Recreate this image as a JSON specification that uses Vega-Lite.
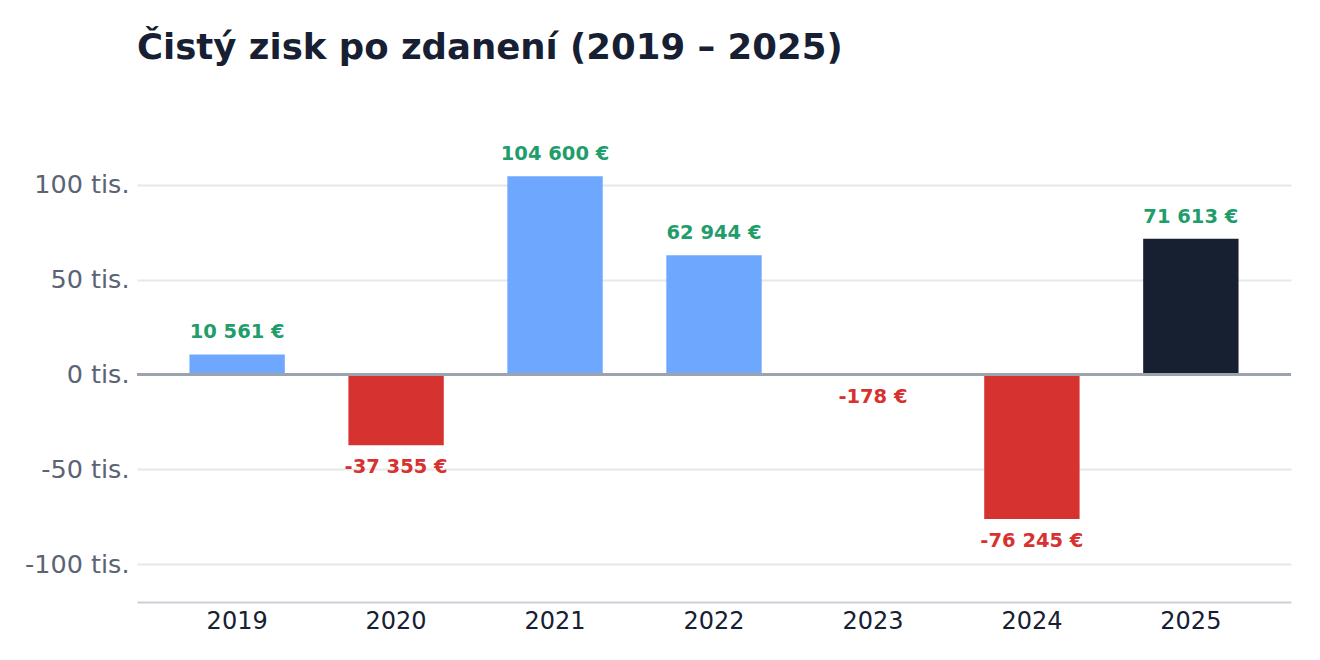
{
  "$schema": "https://vega.github.io/schema/vega-lite/v6.json",
  "width": 1320,
  "height": 660,
  "autosize": {"type": "fit", "contains": "padding"},
  "padding": {"left": 24, "right": 27, "top": 30, "bottom": 27},
  "background": "white",
  "title": {
    "text": "Čistý zisk po zdanení (2019 – 2025)",
    "anchor": "start",
    "frame": "group",
    "font": "DejaVu Sans",
    "fontSize": 35.5,
    "fontWeight": "bold",
    "color": "#172033",
    "offset": 62
  },
  "config": {
    "view": {"stroke": null},
    "font": "DejaVu Sans",
    "locale": {
      "number": {
        "decimal": ",",
        "thousands": " ",
        "grouping": [3],
        "currency": ["", " €"],
        "minus": "-"
      }
    }
  },
  "data": {
    "values": [
      {"year": "2019", "value": 10561},
      {"year": "2020", "value": -37355},
      {"year": "2021", "value": 104600},
      {"year": "2022", "value": 62944},
      {"year": "2023", "value": -178},
      {"year": "2024", "value": -76245},
      {"year": "2025", "value": 71613}
    ]
  },
  "encoding": {
    "x": {
      "field": "year",
      "type": "ordinal",
      "title": null,
      "scale": {"paddingInner": 0.4, "paddingOuter": 0.33},
      "axis": {
        "labelAngle": 0,
        "labelFontSize": 24,
        "labelColor": "#172033",
        "labelPadding": 7,
        "ticks": false,
        "domainColor": "#cbd0d8",
        "domainWidth": 2
      }
    },
    "y": {
      "field": "value",
      "type": "quantitative",
      "title": null,
      "scale": {"domain": [-120000, 130000], "nice": false},
      "axis": {
        "values": [-100000, -50000, 0, 50000, 100000],
        "labelExpr": "(datum.value / 1000) + ' tis.'",
        "labelFontSize": 25.5,
        "labelColor": "#5b6475",
        "labelPadding": 8,
        "ticks": false,
        "domain": false,
        "gridColor": "#e5e7eb",
        "gridWidth": 2
      }
    }
  },
  "layer": [
    {
      "mark": {"type": "bar"},
      "encoding": {
        "color": {
          "condition": [
            {"test": "datum.year === '2025'", "value": "#172030"},
            {"test": "datum.value < 0", "value": "#d63330"}
          ],
          "value": "#6ea8fe"
        }
      }
    },
    {
      "mark": {"type": "rule", "color": "#9ca3af", "strokeWidth": 3},
      "encoding": {"x": null, "y": {"datum": 0, "type": "quantitative"}}
    },
    {
      "transform": [{"filter": "datum.value >= 0"}],
      "mark": {
        "type": "text",
        "baseline": "middle",
        "dy": -22,
        "fontSize": 19.5,
        "fontWeight": "bold",
        "color": "#1f9d6b"
      },
      "encoding": {
        "text": {"field": "value", "type": "quantitative", "format": "$,.0f"}
      }
    },
    {
      "transform": [{"filter": "datum.value < 0"}],
      "mark": {
        "type": "text",
        "baseline": "middle",
        "dy": 22,
        "fontSize": 19.5,
        "fontWeight": "bold",
        "color": "#d63330"
      },
      "encoding": {
        "text": {"field": "value", "type": "quantitative", "format": "$,.0f"}
      }
    }
  ]
}
